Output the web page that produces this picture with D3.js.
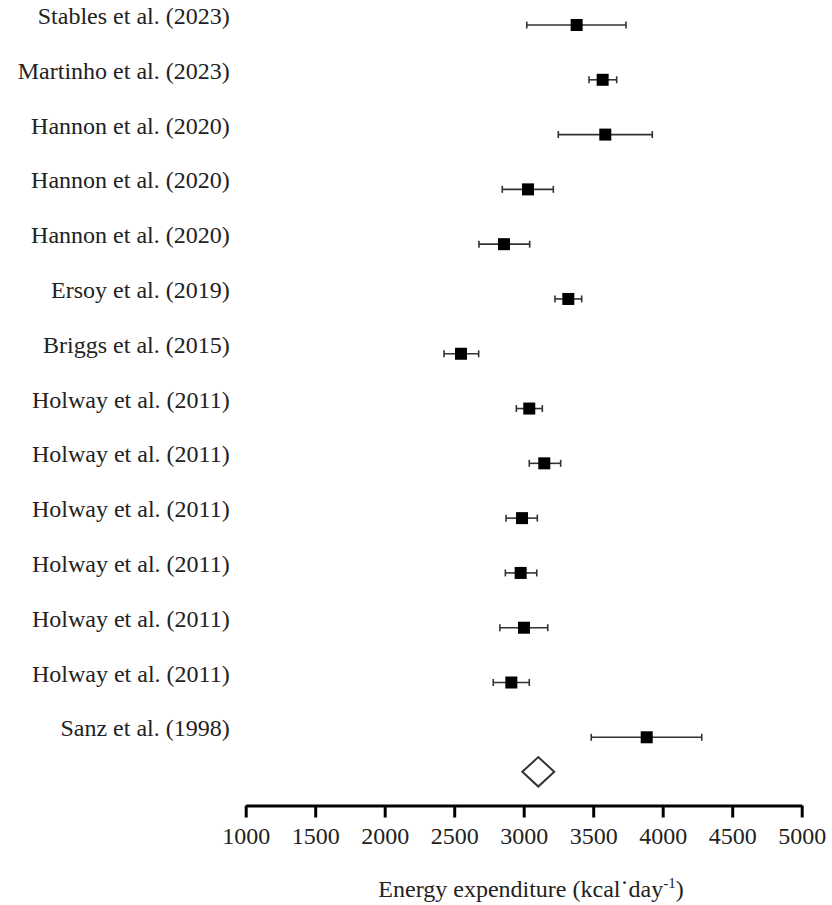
<!DOCTYPE html>
<html><head><meta charset="utf-8">
<script src="https://cdn.jsdelivr.net/npm/d3@7"></script>
<style>body{margin:0;background:#fff}svg{display:block}</style>
</head><body><svg id="c" width="832" height="905"></svg>
<script>
// ---- data ----
const studies = [
  "Stables et al. (2023)", "Martinho et al. (2023)", "Hannon et al. (2020)",
  "Hannon et al. (2020)", "Hannon et al. (2020)", "Ersoy et al. (2019)",
  "Briggs et al. (2015)", "Holway et al. (2011)", "Holway et al. (2011)",
  "Holway et al. (2011)", "Holway et al. (2011)", "Holway et al. (2011)",
  "Holway et al. (2011)", "Sanz et al. (1998)"
];
const means = [3381, 3568, 3587, 3031, 2858, 3321, 2549, 3040, 3148, 2988, 2978, 3002, 2911, 3885];
const lower = [3022, 3470, 3249, 2846, 2678, 3225, 2427, 2947, 3040, 2873, 2868, 2829, 2781, 3486];
const upper = [3736, 3669, 3925, 3213, 3043, 3417, 2676, 3134, 3266, 3098, 3094, 3173, 3040, 4281];
const pooled = {mean: 3105, lower: 2990, upper: 3220};
const xTicks = [1000, 1500, 2000, 2500, 3000, 3500, 4000, 4500, 5000];
const xTitle = "Energy expenditure (kcal";
const xTitleUnit = "day";

// ---- layout ----
const svg = d3.select("#c");
const FONT = "'Liberation Serif', 'DejaVu Serif', serif";
const TXT = "#222";
const x = d3.scaleLinear().domain([1000, 5000]).range([245.7, 801.7]);
const y = d3.scaleLinear().domain([0, studies.length - 1]).range([25, 737.3]);
const pooledRow = 13.63;

const rows = studies.map((s, i) => ({s, m: means[i], lo: lower[i], hi: upper[i], i}));

// labels
svg.append("g").selectAll("text").data(rows).join("text")
  .attr("x", 229.7).attr("y", d => y(d.i) - 1)
  .attr("text-anchor", "end")
  .attr("font-family", FONT).attr("font-size", 24).attr("fill", TXT)
  .text(d => d.s);

// error bars
const g = svg.append("g");
g.selectAll("line.ci").data(rows).join("line").attr("class", "ci")
  .attr("x1", d => x(d.lo)).attr("x2", d => x(d.hi))
  .attr("y1", d => y(d.i)).attr("y2", d => y(d.i))
  .attr("stroke", "#333").attr("stroke-width", 1.6);
["lo", "hi"].forEach(k => {
  g.selectAll("line.cap" + k).data(rows).join("line").attr("class", "cap" + k)
    .attr("x1", d => x(d[k])).attr("x2", d => x(d[k]))
    .attr("y1", d => y(d.i) - 3.5).attr("y2", d => y(d.i) + 3.5)
    .attr("stroke", "#333").attr("stroke-width", 1.6);
});
g.selectAll("rect").data(rows).join("rect")
  .attr("x", d => x(d.m) - 6).attr("y", d => y(d.i) - 6)
  .attr("width", 12).attr("height", 12).attr("fill", "#000");

// pooled diamond
const py = y(pooledRow), ph = 14.7;
svg.append("path")
  .attr("d", `M${x(pooled.lower)},${py} L${x(pooled.mean)},${py - ph} L${x(pooled.upper)},${py} L${x(pooled.mean)},${py + ph} Z`)
  .attr("fill", "#fff").attr("stroke", "#333").attr("stroke-width", 2);

// axis
const ax = svg.append("g").attr("transform", "translate(0,805.5)")
  .call(d3.axisBottom(x).tickValues(xTicks).tickSize(12).tickPadding(9).tickSizeOuter(0).tickFormat(d3.format("d")));
ax.select(".domain").attr("stroke", "#000").attr("stroke-width", 3);
ax.selectAll(".tick line").attr("stroke", "#000").attr("stroke-width", 3);
ax.selectAll(".tick text").attr("font-family", FONT).attr("font-size", 24).attr("fill", TXT);

// axis title
const t = svg.append("text").attr("x", 531).attr("y", 897).attr("text-anchor", "middle")
  .attr("font-family", FONT).attr("font-size", 24).attr("fill", TXT);
t.append("tspan").text(xTitle);
t.append("tspan").attr("dy", -7).text("·");
t.append("tspan").attr("dy", 7).text(xTitleUnit);
t.append("tspan").attr("dy", -9).attr("font-size", 15).text("-1");
t.append("tspan").attr("dy", 9).text(")");
</script>
</body></html>
